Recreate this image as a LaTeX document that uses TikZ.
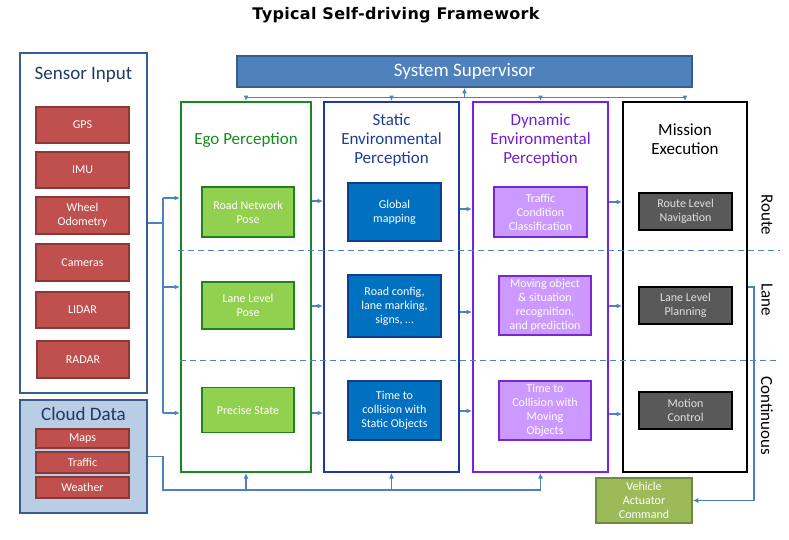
\documentclass[tikz,border=0pt]{standalone}
\usepackage{fontspec}
\setmainfont{Carlito}
\newfontfamily\titlefont{DejaVu Sans}[LetterSpace=2]
\usetikzlibrary{arrows.meta}
\definecolor{connc}{RGB}{79,129,189}
\definecolor{redf}{RGB}{192,80,77}
\definecolor{redd}{RGB}{140,56,54}
\definecolor{framec}{RGB}{54,95,145}
\definecolor{navyt}{RGB}{31,56,100}
\definecolor{cloudf}{RGB}{185,205,229}
\definecolor{supf}{RGB}{79,129,189}
\definecolor{supd}{RGB}{56,93,138}
\definecolor{egoc}{RGB}{22,138,30}
\definecolor{egof}{RGB}{146,208,80}
\definecolor{egod}{RGB}{30,130,30}
\definecolor{statc}{RGB}{30,55,165}
\definecolor{statt}{RGB}{30,60,150}
\definecolor{statf}{RGB}{0,112,192}
\definecolor{statd}{RGB}{20,60,140}
\definecolor{dync}{RGB}{125,30,225}
\definecolor{dynt}{RGB}{112,32,208}
\definecolor{dynf}{RGB}{204,153,255}
\definecolor{dynd}{RGB}{120,40,210}
\definecolor{misf}{RGB}{89,89,89}
\definecolor{vehf}{RGB}{155,187,89}
\definecolor{vehd}{RGB}{113,137,63}
\tikzset{
  conn/.style={draw=connc, line width=1.3pt},
  arr/.style={-{Latex[length=5.5pt,width=5pt]}},
  dashsep/.style={draw=connc, line width=1pt, dash pattern=on 6pt off 4pt},
  inbox/.style={draw, line width=1.6pt, inner sep=1pt, align=center, text=white,
    font=\fontsize{12}{14}\selectfont},
  redbox/.style={inbox, fill=redf, draw=redd, minimum width=93pt},
  egobox/.style={inbox, fill=egof, draw=egod, minimum width=92pt},
  statbox/.style={inbox, fill=statf, draw=statd, minimum width=93pt},
  dynbox/.style={inbox, fill=dynf, draw=dynd, minimum width=92pt},
  misbox/.style={inbox, fill=misf, draw=black, minimum width=93pt, minimum height=37pt, text=white!88!black},
  column/.style={draw, line width=2pt, minimum height=370pt, inner sep=0pt},
  coltitle/.style={align=center, font=\fontsize{17}{19}\selectfont},
  sidelabel/.style={rotate=-90, font=\fontsize{17}{19}\selectfont},
  frametitle/.style={text=navyt, font=\fontsize{19}{21}\selectfont},
}
\begin{document}
\begin{tikzpicture}[x=1pt,y=-1pt]
\useasboundingbox (0,0) rectangle (789,539);
% title
\node[font=\titlefont\bfseries\fontsize{16}{18}\selectfont] (title) at (396,15) {Typical Self-driving Framework};
% supervisor
\node[draw=supd, fill=supf, line width=1.5pt, minimum width=455pt, minimum height=31pt, text=white,
  font=\fontsize{19}{21}\selectfont] (sup) at (464.5,71.5) {System Supervisor};
% sensor input frame
\node[draw=framec, line width=2pt, minimum width=127pt, minimum height=340pt, inner sep=0pt] (sensor) at (83.5,223) {};
\node[frametitle] (sensortitle) at (83.5,75) {Sensor Input};
\node[redbox, minimum height=36.5pt] (gps) at (82.5,125) {GPS};
\node[redbox, minimum height=36pt] (imu) at (82.5,170) {IMU};
\node[redbox, minimum height=37pt] (wheel) at (82.5,215.5) {Wheel\\Odometry};
\node[redbox, minimum height=37pt] (cam) at (82.5,262.5) {Cameras};
\node[redbox, minimum height=36pt] (lidar) at (82.5,310) {LIDAR};
\node[redbox, minimum height=37pt, minimum width=92pt] (radar) at (83,359.5) {RADAR};
% cloud data
\node[draw=supd, fill=cloudf, line width=2pt, minimum width=127pt, minimum height=113pt, inner sep=0pt] (cloud) at (83.5,456.5) {};
\node[frametitle] (cloudtitle) at (83.5,414) {Cloud Data};
\node[redbox, minimum height=19pt] (maps) at (82.5,438.5) {Maps};
\node[redbox, minimum height=21pt] (traffic) at (82.5,462.5) {Traffic};
\node[redbox, minimum height=21pt] (weather) at (82.5,487.5) {Weather};
% columns
\node[column, draw=egoc, minimum width=130pt] (ego) at (246,287) {};
\node[column, draw=statc, minimum width=135pt] (stat) at (391.5,287) {};
\node[column, draw=dync, minimum width=135pt] (dyn) at (540.5,287) {};
\node[column, draw=black, minimum width=124pt] (mis) at (685,287) {};
\node[coltitle, text=egoc] (egotitle) at (246,140) {Ego Perception};
\node[coltitle, text=statt] (stattitle) at (391.5,140) {Static\\Environmental\\Perception};
\node[coltitle, text=dynt] (dyntitle) at (540.5,140) {Dynamic\\Environmental\\Perception};
\node[coltitle, text=black] (mistitle) at (685,139.5) {Mission\\Execution};
% dashed separators
\coordinate (dA1) at (178,250.5);
\coordinate (dA2) at (780,250.5);
\coordinate (dB1) at (180,360);
\coordinate (dB2) at (780,360);
\draw[dashsep] (dA1) -- (dA2);
\draw[dashsep] (dB1) -- (dB2);
% inner boxes
\node[egobox, minimum height=50pt] (rnp) at (248,212) {Road Network\\Pose};
\node[egobox, minimum height=47.5pt] (llp) at (248,305.5) {Lane Level\\Pose};
\node[egobox, minimum height=45pt] (ps) at (248,410) {Precise State};
\node[statbox, minimum height=58pt] (gm) at (394.5,212) {Global\\mapping};
\node[statbox, minimum height=62pt] (rc) at (394.5,306) {Road config,\\lane marking,\\signs, \dots};
\node[statbox, minimum height=59pt] (ttc) at (394.5,410.5) {Time to\\collision with\\Static Objects};
\node[dynbox, minimum width=93pt, minimum height=50pt] (tcc) at (540.5,212) {Traffic\\Condition\\Classification};
\node[dynbox, minimum height=59pt] (mo) at (545,305.5) {Moving object\\\& situation\\recognition,\\and prediction};
\node[dynbox, minimum height=59pt] (ttcm) at (545,410.5) {Time to\\Collision with\\Moving\\Objects};
\node[misbox] (rln) at (685.5,211.5) {Route Level\\Navigation};
\node[misbox] (llpl) at (685.5,305.5) {Lane Level\\Planning};
\node[misbox] (mc) at (685.5,410.5) {Motion\\Control};
% side labels
\node[sidelabel] (route) at (767,215) {Route};
\node[sidelabel] (lane) at (767,300) {Lane};
\node[sidelabel] (cont) at (767,416) {Continuous};
% vehicle actuator
\node[inbox, fill=vehf, draw=vehd, minimum width=96pt, minimum height=45pt] (veh) at (644,500.5) {Vehicle\\Actuator\\Command};
% supervisor connectors
\coordinate (supbus) at (0,97.5);
\draw[conn] (ego.north |- supbus) -- (mis.north |- supbus);
\draw[conn,arr] (sup.south |- supbus) -- (sup.south);
\draw[conn,arr] (ego.north |- supbus) -- (ego.north);
\draw[conn,arr] (stat.north |- supbus) -- (stat.north);
\draw[conn,arr] (dyn.north |- supbus) -- (dyn.north);
\draw[conn,arr] (mis.north |- supbus) -- (mis.north);
% sensor connectors
\coordinate (jx) at (163,0);
\coordinate (La) at (0,198);
\coordinate (Lb) at (0,287);
\coordinate (Lc) at (0,413);
\draw[conn] (sensor.east) -- (sensor.east -| jx);
\draw[conn] (jx |- La) -- (jx |- Lc);
\draw[conn,arr] (jx |- La) -- (ego.west |- La);
\draw[conn,arr] (jx |- Lb) -- (ego.west |- Lb);
\draw[conn,arr] (jx |- Lc) -- (ego.west |- Lc);
% ego -> static
\coordinate (Ea) at (0,201);
\coordinate (Eb) at (0,306);
\coordinate (Ec) at (0,413);
\draw[conn,arr] (ego.east |- Ea) -- (stat.west |- Ea);
\draw[conn,arr] (ego.east |- Eb) -- (stat.west |- Eb);
\draw[conn,arr] (ego.east |- Ec) -- (stat.west |- Ec);
% static -> dynamic
\coordinate (Sa) at (0,209);
\coordinate (Sb) at (0,312);
\coordinate (Sc) at (0,411);
\draw[conn,arr] (stat.east |- Sa) -- (dyn.west |- Sa);
\draw[conn,arr] (stat.east |- Sb) -- (dyn.west |- Sb);
\draw[conn,arr] (stat.east |- Sc) -- (dyn.west |- Sc);
% dynamic -> mission
\coordinate (Da) at (0,202);
\coordinate (Db) at (0,306);
\coordinate (Dc) at (0,414);
\draw[conn,arr] (dyn.east |- Da) -- (mis.west |- Da);
\draw[conn,arr] (dyn.east |- Db) -- (mis.west |- Db);
\draw[conn,arr] (dyn.east |- Dc) -- (mis.west |- Dc);
% cloud connectors
\coordinate (botbus) at (0,490);
\draw[conn] (cloud.east) -- (cloud.east -| jx) -- (jx |- botbus) -- (dyn.south |- botbus);
\draw[conn,arr] (ego.south |- botbus) -- (ego.south);
\draw[conn,arr] (stat.south |- botbus) -- (stat.south);
\draw[conn,arr] (dyn.south |- botbus) -- (dyn.south);
% mission -> vehicle
\coordinate (mx) at (754,287);
\draw[conn,arr] (mis.east |- mx) -- (mx) -- (mx |- veh.east) -- (veh.east);
\end{tikzpicture}
\end{document}
